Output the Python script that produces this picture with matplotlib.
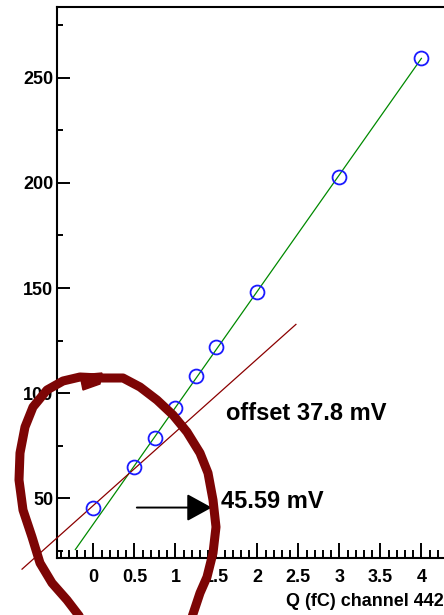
import matplotlib
matplotlib.use("Agg")
import matplotlib.pyplot as plt
import numpy as np

plt.rcParams['font.family'] = ['Liberation Sans', 'DejaVu Sans']

# Measured output amplitude versus injected charge
charge_fc = [0.0, 0.5, 0.75, 1.0, 1.25, 1.5, 2.0, 3.0, 4.0]
amplitude_mv = [45.4, 64.8, 78.6, 93.1, 108.2, 122.0, 148.3, 203.0, 259.2]

# Linear fit over the full range (green)
fit_offset_mv = 37.8
fit_slope = 55.35
fit_x_range = [-0.22, 4.0]

# Low-charge trend line (dark red)
low_x = [-0.87, 2.47]
low_y = [16.3, 132.7]

# Level marked by the arrow
marked_level_mv = 45.59

x_major = [0, 0.5, 1, 1.5, 2, 2.5, 3, 3.5, 4]
x_major_labels = ['0', '0.5', '1', '1.5', '2', '2.5', '3', '3.5', '4']
y_major = [50, 100, 150, 200, 250]

W, H = 444, 615
fig = plt.figure(figsize=(W / 100, H / 100), dpi=100)

x_lo, x_hi = -0.44, 4.6
y_lo, y_hi = 21.6, 283.5
px_per_x = 82.0
left_px, top_px, bottom_px = 57.3, 7.3, 558.0
ax = fig.add_axes([left_px / W, (H - bottom_px) / H,
                   (x_hi - x_lo) * px_per_x / W, (bottom_px - top_px) / H])
ax.set_xlim(x_lo, x_hi)
ax.set_ylim(y_lo, y_hi)

for s in ax.spines.values():
    s.set_linewidth(1.5)
    s.set_color('black')

ax.set_xticks(x_major)
ax.set_xticklabels(x_major_labels)
ax.set_xticks(np.arange(-0.4, 4.6, 0.1), minor=True)
ax.set_yticks(y_major)
ax.set_yticks([25, 75, 125, 175, 225, 275], minor=True)
ax.tick_params(axis='both', which='major', direction='in', width=1.4,
               labelsize=13, color='black')
ax.tick_params(axis='x', which='major', length=11, pad=8)
ax.tick_params(axis='y', which='major', length=9, pad=3)
ax.tick_params(axis='x', which='minor', direction='in', length=5.5, width=1.4)
ax.tick_params(axis='y', which='minor', direction='in', length=4.5, width=1.4)
for lab in ax.get_xticklabels() + ax.get_yticklabels():
    lab.set_fontweight('bold')

# Lines and points
fx = np.array(fit_x_range)
ax.plot(fx, fit_offset_mv + fit_slope * fx, color='#008a00', lw=0.9, zorder=3)
ax.plot(low_x, low_y, color='#8b0000', lw=0.9, clip_on=False, zorder=3)
ax.plot(charge_fc, amplitude_mv, 'o', ms=10, mfc='none', mec='#1a1aff',
        mew=1.3, zorder=4)

# Arrow and annotations
ax.annotate('', xy=(1.444, marked_level_mv), xytext=(0.53, marked_level_mv),
            arrowprops=dict(arrowstyle='-|>,head_length=1.55,head_width=0.85',
                            mutation_scale=10, lw=1.4, color='black',
                            shrinkA=0, shrinkB=0))
ax.text(1.554, marked_level_mv, '%.2f mV' % marked_level_mv, fontsize=17,
        fontweight='bold', va='baseline', ha='left')
ax.text(1.618, 87.2, 'offset %.1f mV' % fit_offset_mv, fontsize=17,
        fontweight='bold', va='baseline', ha='left')

fig.text(286 / W, 1 - 601.7 / H, 'Q (fC) channel 442', fontsize=13,
         fontweight='bold', ha='left', va='center')

# Hand-drawn loop on top of the plot
ov = fig.add_axes([0, 0, 1, 1], zorder=10)
ov.set_xlim(0, W)
ov.set_ylim(H, 0)
ov.axis('off')
ov.patch.set_visible(False)
loop_x = [80, 67, 52, 40, 32, 23, 19, 20, 25, 33, 47, 63, 80, 100, 123, 140,
          157, 173, 187, 200, 208, 213, 216, 213, 207, 200, 192]
loop_y = [617, 600, 583, 563, 537, 510, 480, 453, 427, 407, 390, 381, 377, 378,
          378, 387, 400, 415, 432, 453, 473, 500, 527, 553, 577, 593, 617]
ov.plot(loop_x, loop_y, color='#7d0505', lw=6.5, solid_joinstyle='round',
        solid_capstyle='round')
ov.fill([80, 102, 100, 83], [375, 373, 384, 390], color='#7d0505')

fig.savefig('out.png', dpi=100)
